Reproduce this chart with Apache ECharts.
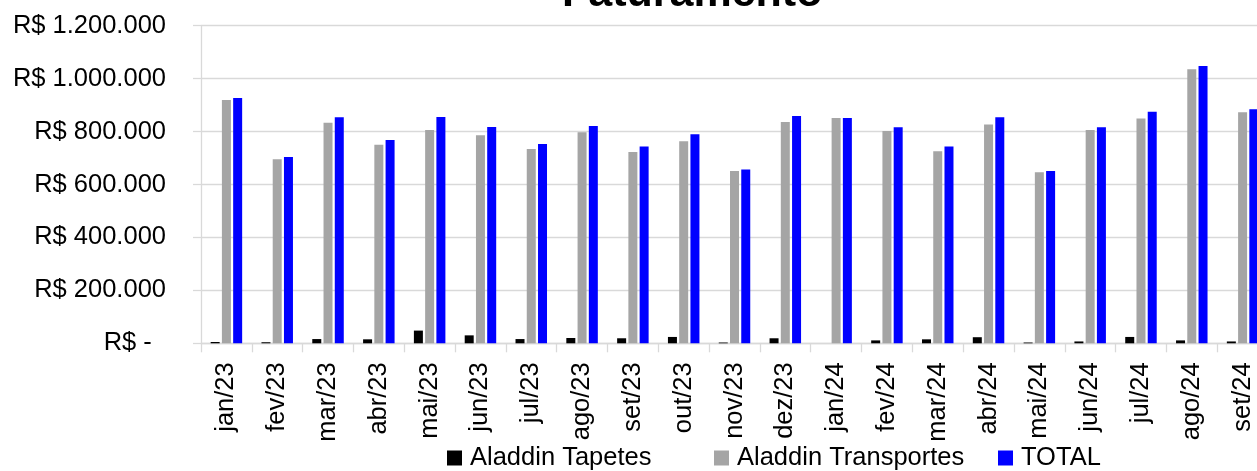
<!DOCTYPE html>
<html>
<head>
<meta charset="utf-8">
<title>Faturamento</title>
<script src="https://cdn.jsdelivr.net/npm/echarts@6/dist/echarts.min.js"></script>
<style>
	html, body { margin: 0; padding: 0; background: #fff; overflow: hidden; }
	#chart { width: 1280px; height: 471px; }
</style>
</head>
<body>
<div id="chart"></div>
<script>
var categorias = ['jan/23', 'fev/23', 'mar/23', 'abr/23', 'mai/23', 'jun/23', 'jul/23', 'ago/23', 'set/23', 'out/23', 'nov/23', 'dez/23',
	'jan/24', 'fev/24', 'mar/24', 'abr/24', 'mai/24', 'jun/24', 'jul/24', 'ago/24', 'set/24'];
var tapetes = [5000, 4000, 16000, 15000, 48000, 30000, 16000, 20000, 19000, 24000, 3000, 19000,
	0, 11000, 15000, 23000, 3000, 7000, 24000, 11000, 7000];
var transportes = [919000, 695000, 833000, 750000, 806000, 786000, 734000, 797000, 723000, 763000, 651000, 836000,
	851000, 802000, 726000, 827000, 646000, 806000, 849000, 1035000, 873000];
var total = [927000, 704000, 854000, 768000, 855000, 817000, 753000, 821000, 744000, 790000, 657000, 859000,
	851000, 816000, 744000, 854000, 651000, 816000, 875000, 1048000, 884000];

var fonte = '"Liberation Sans", Arial, sans-serif';

function formatReal(v) {
	if (v == 0) return 'R$ -  ';
	return 'R$ ' + String(v).replace(/\B(?=(\d{3})+(?!\d))/g, '.');
}

// o div é mais largo que a janela: o gráfico original aparece cortado à direita
var myChart = echarts.init(document.getElementById('chart'));
var legendaTexto = { fontFamily: fonte, fontSize: 25.5, color: '#000', padding: [0, 0, 0, 3] };

var option = {
	animation: false,
	title: {
		text: 'Faturamento',
		left: 557,
		top: -32,
		textStyle: { fontFamily: fonte, fontSize: 43, fontWeight: 'bold', color: '#000' }
	},
	grid: { left: 201, top: 25.7, width: 1067, height: 317.6 },
	legend: [
		{ data: ['Aladdin Tapetes'], left: 442, top: 440, icon: 'rect', itemWidth: 15, itemHeight: 15, textStyle: legendaTexto },
		{ data: ['Aladdin Transportes'], left: 709, top: 440, icon: 'rect', itemWidth: 15, itemHeight: 15, textStyle: legendaTexto },
		{ data: ['TOTAL'], left: 993, top: 440, icon: 'rect', itemWidth: 15, itemHeight: 15, textStyle: legendaTexto }
	],
	xAxis: {
		type: 'category',
		data: categorias,
		axisLine: { lineStyle: { color: '#D9D9D9', width: 1.3 } },
		axisTick: { show: true, length: 9, interval: 0, lineStyle: { color: '#D9D9D9', width: 1.3 } },
		axisLabel: { rotate: 90, interval: 0, margin: 19, fontFamily: fonte, fontSize: 25.5, color: '#000' }
	},
	yAxis: {
		type: 'value',
		min: 0,
		max: 1200000,
		interval: 200000,
		axisLine: { show: true, lineStyle: { color: '#D9D9D9', width: 1.3 } },
		axisTick: { show: true, length: 8, lineStyle: { color: '#D9D9D9', width: 1.3 } },
		splitLine: { lineStyle: { color: '#D9D9D9', width: 1.3 } },
		axisLabel: { margin: 35, fontFamily: fonte, fontSize: 25.5, color: '#000', formatter: formatReal }
	},
	series: [
		{ name: 'Aladdin Tapetes', type: 'bar', data: tapetes, barWidth: 9, barGap: '25%', itemStyle: { color: '#000000' } },
		{ name: 'Aladdin Transportes', type: 'bar', data: transportes, barWidth: 9, barGap: '25%', itemStyle: { color: '#A5A5A5' } },
		{ name: 'TOTAL', type: 'bar', data: total, barWidth: 9, barGap: '25%', itemStyle: { color: '#0000FF' } }
	]
};
myChart.setOption(option);
</script>
</body>
</html>
